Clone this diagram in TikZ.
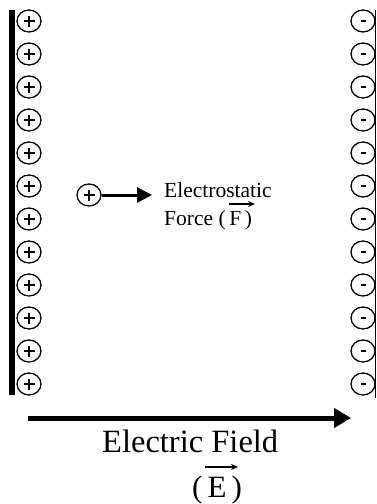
\documentclass[tikz,border=0pt]{standalone}
\usepackage{fontspec}
\setmainfont{Liberation Serif}
\usetikzlibrary{shapes.geometric,arrows.meta}
\begin{document}
\begin{tikzpicture}[x=1pt,y=-1pt,
  charge/.style={ellipse, draw, line width=1.3pt, minimum width=24pt, minimum height=22pt, inner sep=0pt},
  pluscharge/.style={charge, path picture={
      \draw[line width=1.7pt] ([xshift=-5.5pt]path picture bounding box.center) -- ([xshift=5.5pt]path picture bounding box.center);
      \draw[line width=1.7pt] ([yshift=-5.5pt]path picture bounding box.center) -- ([yshift=5.5pt]path picture bounding box.center);}},
  minuscharge/.style={charge, path picture={
      \draw[line width=2.6pt] ([xshift=-2.5pt]path picture bounding box.center) -- ([xshift=2.5pt]path picture bounding box.center);}},
  lbl/.style={inner sep=0pt, anchor=base west},
  vecarrow/.style={line width=1.1pt, -{Stealth[length=7pt,width=6pt]}}]
\fill[white] (0,0) rectangle (377,504);
\useasboundingbox (0,0) rectangle (377,504);
% plates
\coordinate (lt) at (11.5,10);
\coordinate (lb) at (11.5,395);
\draw[line width=6pt] (lt) -- (lb);
\coordinate (rt) at (375.5,10);
\coordinate (rb) at (375.5,398);
\draw[line width=1.6pt] (rt) -- (rb);
% charges
\foreach \i in {0,...,11} {
  \node[pluscharge] (p\i) at (29,{21+33*\i}) {};
  \node[minuscharge] (m\i) at (363,{21+33*\i}) {};
}
% test charge
\node[pluscharge] (q) at (89,195) {};
\coordinate (ftip) at (152,195);
\draw[line width=3pt, -{Triangle[length=15pt,width=15pt]}] (q.east) -- (ftip);
\node[lbl, font=\fontsize{21.5}{26}\selectfont] (es) at (164,197) {Electrostatic};
\node[lbl, font=\fontsize{21.5}{26}\selectfont] (fo) at (164,225) {Force (\,F\,)};
\coordinate (fa1) at (229,204);
\coordinate (fa2) at (255,204);
\draw[vecarrow] (fa1) -- (fa2);
% field
\coordinate (ea) at (28,418);
\coordinate (eb) at (351,418);
\draw[line width=5pt, -{Triangle[length=17pt,width=19pt]}] (ea) -- (eb);
\node[lbl, font=\fontsize{32.5}{38}\selectfont] (ef) at (102,452) {Electric Field};
\node[inner sep=0pt, anchor=base, font=\fontsize{31}{36}\selectfont] (ev) at (217,497) {(\,E\,)};
\coordinate (va1) at (205,467);
\coordinate (va2) at (238,467);
\draw[vecarrow] (va1) -- (va2);
\end{tikzpicture}
\end{document}
